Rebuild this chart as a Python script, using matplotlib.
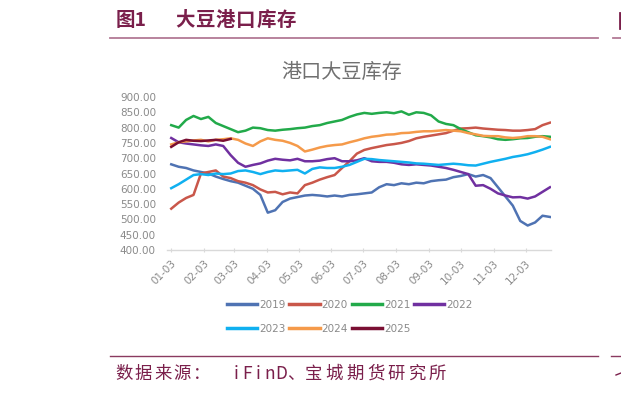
import numpy as np
import matplotlib
matplotlib.use("Agg")
import matplotlib.pyplot as plt
from matplotlib.lines import Line2D

# ---- data (day offsets from Jan-03, weekly samples) ----
days = list(range(0, 358, 7))

s2019 = [680, 672, 668, 660, 655, 650, 640, 632, 625, 620, 610, 600, 580, 522, 530, 557,
         568, 573, 578, 580, 578, 575, 578, 575, 580, 582, 585, 588, 605, 615, 612, 618,
         615, 620, 618, 625, 628, 630, 638, 642, 648, 640, 645, 635, 605, 575, 545, 495,
         480, 490, 512, 508]
s2020 = [535, 555, 570, 580, 650, 655, 660, 640, 635, 625, 620, 612, 598, 588, 590, 582,
         588, 585, 612, 620, 630, 638, 645, 668, 690, 715, 727, 733, 738, 743, 746, 750,
         756, 765, 770, 774, 778, 782, 790, 797, 798, 800, 797, 795, 793, 792, 790, 790,
         792, 795, 808, 816]
s2021 = [808, 800, 825, 838, 828, 835, 815, 805, 795, 785, 790, 800, 798, 792, 790, 793,
         795, 798, 800, 805, 808, 815, 820, 825, 835, 843, 848, 845, 848, 850, 847, 853,
         842, 850, 848, 840, 820, 812, 808, 795, 785, 775, 772, 768, 762, 760, 762, 765,
         766, 770, 772, 770]
s2022 = [766, 752, 748, 745, 742, 740, 745, 740, 710, 685, 672, 678, 683, 692, 698, 695,
         693, 698, 690, 690, 692, 697, 700, 690, 690, 693, 700, 690, 688, 688, 685, 680,
         678, 680, 678, 676, 672, 668, 662, 655, 648, 610, 612, 600, 585, 578, 572, 573,
         568, 575, 590, 605]
s2023 = [602, 615, 630, 645, 648, 645, 650, 648, 650, 658, 660, 655, 648, 655, 660, 658,
         660, 662, 650, 665, 670, 668, 668, 672, 678, 688, 698, 697, 694, 692, 690, 688,
         686, 683, 682, 680, 678, 680, 682, 680, 677, 676, 682, 688, 693, 698, 704, 708,
         713, 720, 728, 737]
s2024 = [745, 752, 755, 758, 760, 755, 760, 762, 765, 760, 748, 740, 755, 765, 760, 757,
         750, 740, 722, 728, 735, 740, 743, 745, 752, 758, 765, 770, 773, 777, 778, 782,
         783, 786, 788, 788, 790, 792, 790, 788, 782, 778, 773, 772, 772, 768, 766, 768,
         772, 772, 770, 762]
s2025 = [737, 752, 760, 757, 756, 758, 760, 757, 763]

series_names = ["2019", "2020", "2021", "2022", "2023", "2024", "2025"]
series_vals = [s2019, s2020, s2021, s2022, s2023, s2024, s2025]
colors = ["#4F73B3", "#C9574A", "#22AA4A", "#7030A0", "#10B0F0", "#F59A4A", "#7A0F33"]

month_days = [0, 31, 59, 90, 120, 151, 181, 212, 243, 273, 304, 334]
month_labels = ["01-03", "02-03", "03-03", "04-03", "05-03", "06-03",
                "07-03", "08-03", "09-03", "10-03", "11-03", "12-03"]
y_ticks = [400, 450, 500, 550, 600, 650, 700, 750, 800, 850, 900]

title_num = "图1"
title_txt = "大豆港口库存"
chart_title = "港口大豆库存"
src_head = "数据来源："
src_latin = "iFinD"
src_sep = "、"
src_tail = "宝城期货研究所"

# ---- figure ----
W, H = 621, 393
fig = plt.figure(figsize=(W / 100, H / 100), dpi=100)
cjk = ["Noto Sans CJK SC", "DejaVu Sans"]
maroon = "#7A1F4B"
rule = "#B27A95"
gray = "#8A8A8A"

def fx(px):
    return px / W

def fy(py):
    return 1 - py / H

def spaced(text, x_start, pitch, y, ha="left", **kw):
    for i, ch in enumerate(text):
        fig.text(fx(x_start + i * pitch), fy(y), ch, va="center", ha=ha, **kw)

# header
fig.text(fx(116), fy(20), title_num, family=cjk, fontsize=14, fontweight="bold",
         color=maroon, va="center", ha="left")
spaced(title_txt, 175, 20.4, 20, family=cjk, fontsize=14, fontweight="bold", color=maroon)
fig.add_artist(Line2D([fx(110), fx(598)], [fy(38), fy(38)], color=rule, lw=1.3))
fig.add_artist(Line2D([fx(613), fx(621)], [fy(38), fy(38)], color=rule, lw=1.3))
fig.add_artist(Line2D([fx(619.5), fx(619.5)], [fy(13), fy(28)], color=maroon, lw=2.0))

# footer
fig.add_artist(Line2D([fx(110), fx(598)], [fy(356), fy(356)], color="#8A3A60", lw=1.0))
fig.add_artist(Line2D([fx(611), fx(621)], [fy(356), fy(356)], color="#8A3A60", lw=1.0))
fig.add_artist(Line2D([fx(616), fx(621)], [fy(375), fy(373)], color=maroon, lw=1.0))
spaced(src_head, 115, 19.6, 374, family=cjk, fontsize=12.5, color=maroon)
spaced(src_latin, 236, 11.2, 374, ha="center", family=cjk, fontsize=12.5, color=maroon)
fig.text(fx(287), fy(374), src_sep, family=cjk, fontsize=12.5, color=maroon,
         va="center", ha="left")
spaced(src_tail, 305, 20.6, 374, family=cjk, fontsize=12.5, color=maroon)

# chart title
fig.text(fx(342), fy(72), chart_title, family=cjk, fontsize=14.5, color="#707070",
         va="center", ha="center")

# axes
x0, x1 = -4, 358
left_px, right_px = 167, 551
ax = fig.add_axes([fx(left_px), fy(250), (right_px - left_px) / W, (250 - 97) / H])
for name, vals, c in zip(series_names, series_vals, colors):
    ax.plot(days[:len(vals)], vals, color=c, lw=1.8, label=name, solid_joinstyle="round")

ax.set_xlim(x0, x1)
ax.set_ylim(400, 900)
ax.set_yticks(y_ticks)
ax.set_yticklabels([f"{v:.2f}" for v in y_ticks])
ax.set_xticks(month_days)
ax.set_xticklabels(month_labels, rotation=45, ha="right", rotation_mode="anchor")
for s in ["top", "right", "left"]:
    ax.spines[s].set_visible(False)
ax.spines["bottom"].set_color("#D9D9D9")
ax.spines["bottom"].set_linewidth(1.0)
ax.tick_params(axis="y", length=0, pad=8, labelsize=7.5, labelcolor=gray)
ax.tick_params(axis="x", length=3, direction="inout", color="#D9D9D9",
               pad=4, labelsize=7.5, labelcolor=gray)

handles, labels = ax.get_legend_handles_labels()
order = [0, 4, 1, 5, 2, 6, 3]
leg = fig.legend([handles[i] for i in order], [labels[i] for i in order],
                 ncol=4, loc="upper left", bbox_to_anchor=(fx(227), fy(300)),
                 frameon=False, fontsize=7.5, handlelength=2.9, handletextpad=0.2,
                 columnspacing=0.35, labelspacing=1.35, borderaxespad=0, borderpad=0)
for t in leg.get_texts():
    t.set_color(gray)
for h in leg.legend_handles:
    h.set_linewidth(2.5)

fig.savefig("out.png", dpi=100, facecolor="white")
